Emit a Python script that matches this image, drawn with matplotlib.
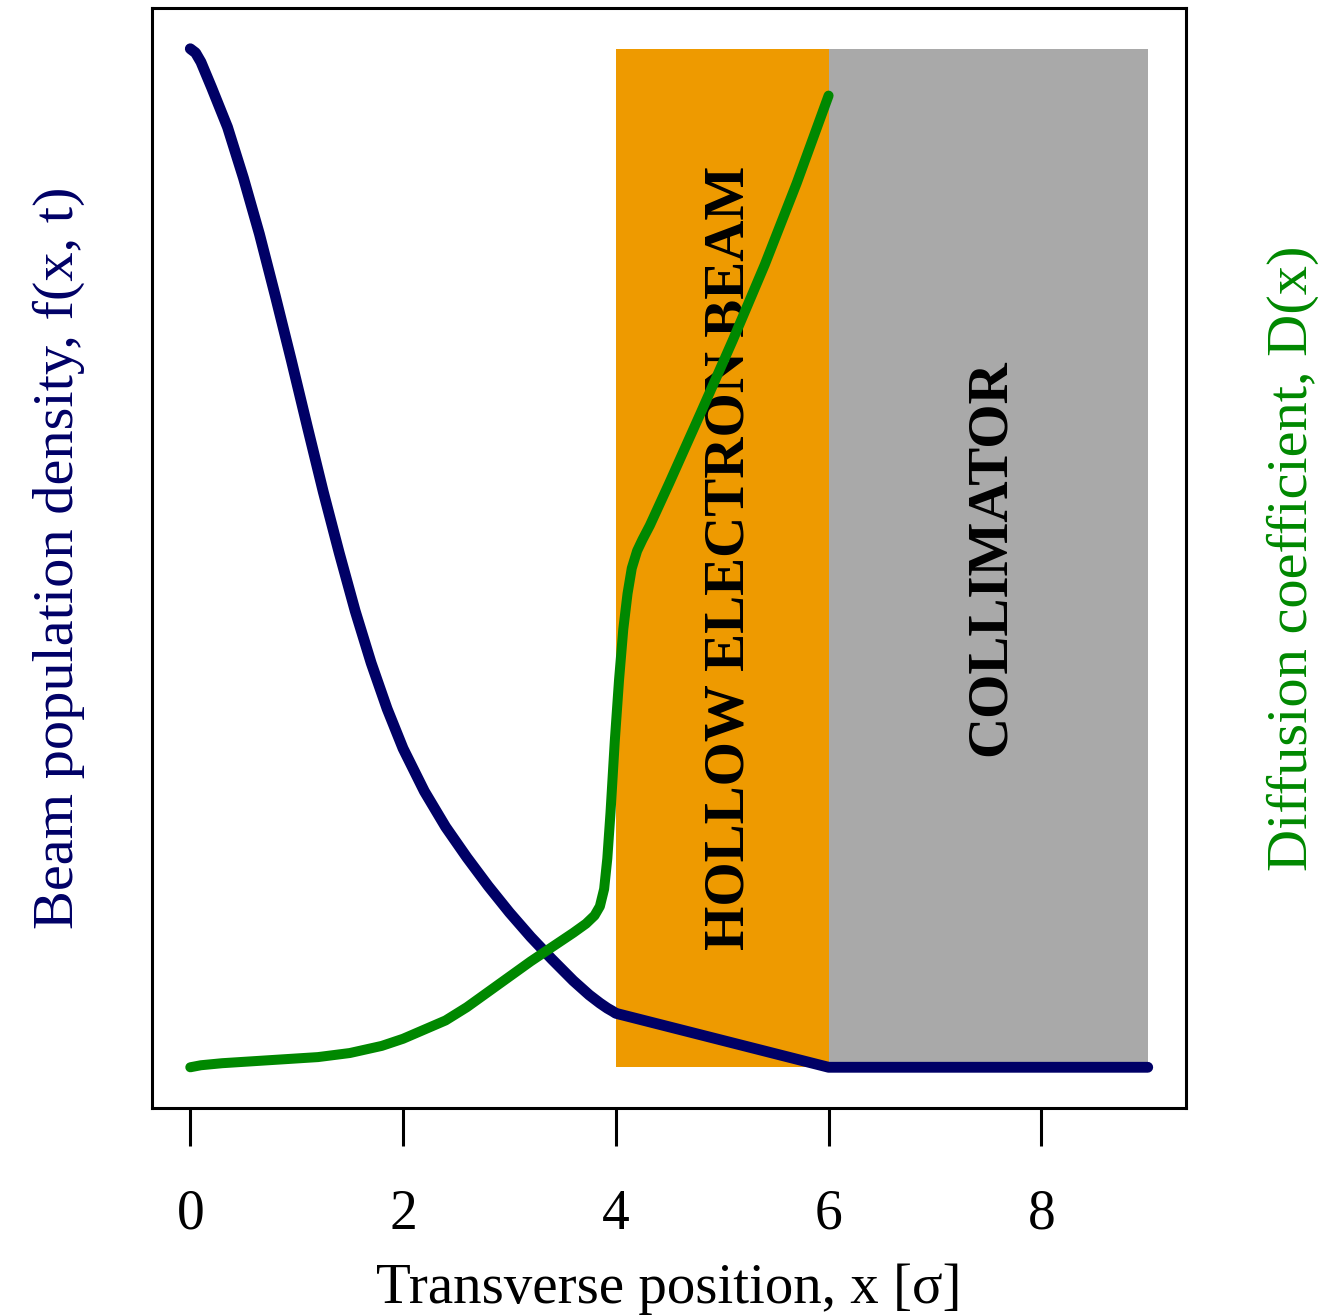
import numpy as np
import matplotlib.pyplot as plt
from matplotlib.patches import Rectangle

plt.rcParams['font.family'] = ['Liberation Serif', 'DejaVu Serif']

# beam population density f(x, t), normalised to its peak
x_f = [0, 0.05, 0.1, 0.2, 0.35, 0.5, 0.65, 0.8, 0.95, 1.1, 1.25, 1.4, 1.55,
       1.7, 1.85, 2.0, 2.2, 2.4, 2.6, 2.8, 3.0, 3.2, 3.4, 3.6, 3.75, 3.85,
       3.92, 3.97, 4.0, 6.0, 9.0]
f_vals = [1.0, 0.996, 0.987, 0.962, 0.923, 0.873, 0.818, 0.757, 0.694, 0.629,
          0.565, 0.505, 0.448, 0.397, 0.352, 0.313, 0.271, 0.236, 0.206, 0.178,
          0.152, 0.128, 0.106, 0.085, 0.071, 0.063, 0.058, 0.055, 0.053, 0.0,
          0.0]

# diffusion coefficient D(x), normalised
x_d = [0, 0.1, 0.3, 0.6, 0.9, 1.2, 1.5, 1.8, 2.0, 2.2, 2.4, 2.6, 2.8, 3.0,
       3.2, 3.4, 3.6, 3.72, 3.8, 3.85, 3.89, 3.92, 3.95, 3.99, 4.03, 4.07,
       4.11, 4.15, 4.2, 4.25, 4.32, 4.5, 4.8, 5.1, 5.4, 5.7, 6.0]
d_vals = [0.0, 0.002, 0.004, 0.006, 0.008, 0.01, 0.014, 0.021, 0.028, 0.037,
          0.046, 0.059, 0.074, 0.089, 0.104, 0.118, 0.132, 0.141, 0.149, 0.158,
          0.175, 0.205, 0.25, 0.32, 0.38, 0.43, 0.465, 0.49, 0.507, 0.518,
          0.532, 0.573, 0.643, 0.714, 0.788, 0.868, 0.954]

# regions: (label, x start, x end, colour, label x position)
regions = [('HOLLOW ELECTRON BEAM', 4, 6, '#EE9A00', 5.07),
           ('COLLIMATOR', 6, 9, '#A9A9A9', 7.52)]

navy = '#000066'
green = '#008800'

fig = plt.figure(figsize=(13.24, 13.15), dpi=100)
ax = fig.add_axes([0.1148, 0.1574, 0.781, 0.8365])
ax.set_xlim(-0.36, 9.36)
ax.set_ylim(-0.04, 1.04)

for label, x0, x1, col, xt in regions:
    ax.add_patch(Rectangle((x0, 0), x1 - x0, 1, facecolor=col, edgecolor='none', zorder=1))
    ax.text(xt, 0.5, label, rotation=90, ha='center', va='center',
            fontsize=41, fontweight='bold', color='black', zorder=2)

ax.plot(x_f, f_vals, color=navy, lw=7.8, solid_capstyle='round',
        solid_joinstyle='round', zorder=3)
ax.plot(x_d, d_vals, color=green, lw=7.2, solid_capstyle='round',
        solid_joinstyle='round', zorder=4)

ax.set_xticks([0, 2, 4, 6, 8])
ax.tick_params(axis='x', length=27, width=2.2, labelsize=40, pad=31)
ax.set_yticks([])
for s in ax.spines.values():
    s.set_linewidth(2.2)

ax.set_xlabel('Transverse position, x [σ]', fontsize=41, labelpad=16)
ax.set_ylabel('Beam population density, f(x, t)', fontsize=42, color=navy, labelpad=48)

ax2 = ax.twinx()
ax2.set_ylim(ax.get_ylim())
ax2.set_yticks([])
ax2.set_ylabel('Diffusion coefficient, D(x)', fontsize=42, color=green,
               rotation=90, labelpad=58)

fig.savefig('out.png', dpi=100)
